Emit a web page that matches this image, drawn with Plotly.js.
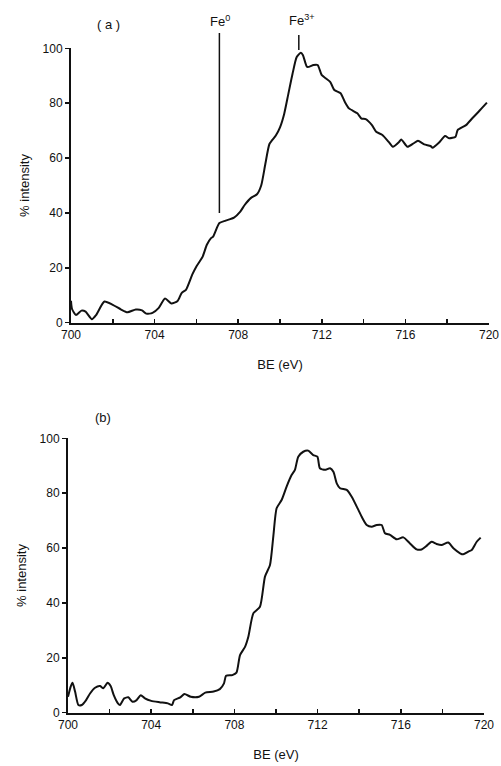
<!DOCTYPE html>
<html><head><meta charset="utf-8">
<script src="https://cdn.plot.ly/plotly-3.0.1.min.js"></script>
<style>html,body{margin:0;padding:0;background:#fff}</style>
</head><body>
<div id="chart" style="width:501px;height:766px"></div>
<script>
// Panel (a)
const beA = [700.0,700.05,700.24,700.5,700.7,701.0,701.2,701.6,702.0,702.4,702.7,703.1,703.4,703.6,703.9,704.2,704.5,704.8,705.1,705.3,705.5,705.8,706.0,706.3,706.5,706.7,706.8,707.1,707.4,707.8,708.1,708.3,708.6,708.9,709.1,709.3,709.5,709.8,710.0,710.2,710.4,710.6,710.8,711.0,711.1,711.3,711.6,711.8,712.0,712.2,712.4,712.6,712.9,713.1,713.3,713.7,713.9,714.1,714.4,714.6,714.9,715.2,715.4,715.7,715.8,716.1,716.4,716.6,716.9,717.2,717.3,717.6,717.9,718.1,718.4,718.5,718.9,719.2,719.5,719.9];
const intA = [8,5,2.8,4.4,4,1.3,2.8,7.7,6.5,4.8,3.8,4.8,4.5,3.3,3.6,5.4,8.8,7.0,7.9,10.9,12,17.5,20.5,24.1,28.4,30.8,31.4,36.3,37.2,38.3,40.5,42.8,45.4,46.8,50,57.9,65.2,68.2,71.2,76.1,83.4,90.7,96.8,98.4,97.5,93.2,93.9,93.9,90.2,89,87.8,84.8,83.6,80.5,78.1,76.3,74.4,74.2,72,69.6,68.4,65.9,64.1,65.9,66.8,64.1,65.4,66.3,65,64.4,63.8,65.6,68,67.2,67.8,70.2,72,74.5,76.9,80.2];
// Panel (b)
const beB = [700.0,700.13,700.22,700.34,700.5,700.66,700.87,701.06,701.3,701.54,701.7,701.9,702.05,702.2,702.4,702.5,702.7,702.9,703.1,703.3,703.5,703.7,704.0,704.4,704.8,705.0,705.1,705.4,705.6,705.9,706.3,706.6,707.0,707.3,707.5,707.6,707.9,708.1,708.27,708.51,708.67,708.91,709.23,709.47,709.71,709.87,710.03,710.27,710.51,710.75,710.91,711.07,711.31,711.55,711.79,711.99,712.11,712.35,712.6,712.76,712.92,713.08,713.4,713.64,713.96,714.12,714.36,714.6,714.84,715.08,715.24,715.48,715.8,716.12,716.44,716.76,717.0,717.24,717.48,717.72,717.96,718.28,718.53,718.85,719.0,719.25,719.41,719.65,719.84];
const intB = [5.8,9.5,10.9,7.7,2.8,2.8,4.6,7,9.1,9.7,8.9,10.9,9.7,6.4,3.4,2.8,5.2,5.6,4,4.6,6.4,5.2,4.3,3.8,3.4,2.8,4.6,5.6,6.8,5.8,5.8,7.3,7.7,8.6,10.7,13.5,13.7,14.6,21,24,27.7,36.2,38.6,49.6,53.8,64.2,74.5,77.5,82.4,86.6,88.5,93.3,95.1,95.5,93.9,93.3,89.1,88.5,89.1,87.8,83.6,81.8,81.2,78.7,73.9,71.4,68.4,67.8,68.4,68.4,65.4,64.8,63.2,63.9,61.7,59.5,59.5,60.8,62.3,61.5,61.1,62,59.9,58.1,57.7,58.7,59.3,62.3,63.8];
const xTicks = [700,704,708,712,716,720];
const yTicks = [0,20,40,60,80,100];

const W = 501, H = 766, ML = 68, MR = 12;
const PW = W - ML - MR;
const px = v => (v - ML) / PW;
const py = v => 1 - v / H;

const font = {family: 'Liberation Sans, Arial, sans-serif', color: '#111'};
const lineStyle = {color: '#111', width: 2, shape: 'spline', smoothing: 0.6};

function xAxis(dom, anchor) {
  return {
    domain: dom, anchor: anchor, range: [700, 720],
    tickvals: xTicks, ticks: 'inside', ticklen: 4, tickwidth: 1.5, tickcolor: '#111',
    minor: {dtick: 2, tick0: 700, ticks: 'inside', ticklen: 4, tickwidth: 1.5, tickcolor: '#111'},
    showline: true, linecolor: '#111', linewidth: 2, showgrid: false, zeroline: false,
    tickfont: {family: font.family, size: 12, color: '#111'},
    title: {text: 'BE (eV)', font: {family: font.family, size: 13, color: '#111'}, standoff: 19}
  };
}
function yAxis(dom, anchor) {
  return {
    domain: dom, anchor: anchor, range: [0, 100],
    tickvals: yTicks, ticks: 'outside', ticklen: 4, tickwidth: 1.5, tickcolor: '#111',
    showline: true, linecolor: '#111', linewidth: 2, showgrid: false, zeroline: false,
    tickfont: {family: font.family, size: 12, color: '#111'},
    title: {text: '% intensity', font: {family: font.family, size: 13, color: '#111'}, standoff: 10}
  };
}

const data = [
  {x: beA, y: intA, xaxis: 'x', yaxis: 'y', mode: 'lines', line: lineStyle, hoverinfo: 'skip'},
  {x: beB, y: intB, xaxis: 'x2', yaxis: 'y2', mode: 'lines', line: lineStyle, hoverinfo: 'skip'}
];

const ann = (text, xref, x, y) => ({text: text, xref: xref, yref: 'paper', x: x, y: y,
  xanchor: 'center', yanchor: 'middle', showarrow: false,
  font: {family: font.family, size: 13, color: '#111'}});

const layout = {
  width: W, height: H,
  margin: {l: ML, r: MR, t: 0, b: 0},
  paper_bgcolor: '#fff', plot_bgcolor: '#fff',
  showlegend: false,
  font: font,
  xaxis: xAxis([px(71), px(489)], 'y'),
  yaxis: yAxis([py(322.7), py(48.3)], 'x'),
  xaxis2: xAxis([px(68), px(484)], 'y2'),
  yaxis2: yAxis([py(712.7), py(438.3)], 'x2'),
  shapes: [
    {type: 'line', xref: 'x', yref: 'paper', x0: 707.1, x1: 707.1, y0: py(213), y1: py(33), line: {color: '#111', width: 1.5}},
    {type: 'line', xref: 'x', yref: 'paper', x0: 710.9, x1: 710.9, y0: py(50), y1: py(35), line: {color: '#111', width: 1.5}}
  ],
  annotations: [
    ann('( a )', 'paper', px(108), py(25)),
    ann('Fe<sup>0</sup>', 'x', 707.15, py(21)),
    ann('Fe<sup>3+</sup>', 'x', 711.05, py(20)),
    ann('(b)', 'paper', px(103), py(418))
  ]
};

Plotly.newPlot('chart', data, layout, {staticPlot: true, displayModeBar: false});
</script>
</body></html>
